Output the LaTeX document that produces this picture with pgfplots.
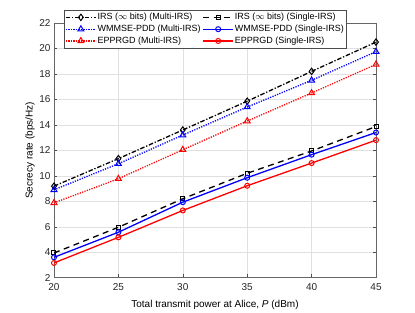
\documentclass[border=0pt]{standalone}
\usepackage{pgfplots}
\pgfplotsset{compat=1.18}
\usepackage{fontspec}
\setmainfont{Liberation Sans}
\begin{document}
\begin{tikzpicture}[x=1pt,y=1pt]
\begin{axis}[
  name=ax,
  at={(0,0)}, anchor=south west,
  scale only axis,
  width=322pt, height=254.7pt,
  xmin=20, xmax=45, ymin=2, ymax=22,
  xtick={20,25,30,35,40,45},
  ytick={2,4,6,8,10,12,14,16,18,20,22},
  tick align=inside,
  tick style={color=black!70, line width=0.5pt},
  major tick length=3.2pt,
  axis line style={color=black!60, line width=0.6pt},
  grid=major,
  grid style={color=black!12, line width=0.5pt},
  /pgf/number format/assume math mode=true,
  ticklabel style={font=\fontsize{10}{12}\selectfont, color=black!85},
  xticklabel style={yshift=-2.5pt},
  xlabel={Total transmit power at Alice,\ \textit{P} (dBm)},
  ylabel={Secrecy rate (bps/Hz)},
  label style={font=\fontsize{11}{13}\selectfont, color=black!85},
  every axis x label/.style={at={(rel axis cs:0.5,0)}, anchor=base, yshift=-29.5pt},
  every axis y label/.style={at={(rel axis cs:0,0.5)}, rotate=90, anchor=center, yshift=24pt},
  legend columns=2,
  legend style={at={(0.031,1.051)}, anchor=north west,
    font=\fontsize{9}{11}\selectfont,
    draw=black!70, line width=0.5pt, inner xsep=1pt, inner ysep=1.5pt,
    nodes={inner sep=1pt, text height=7pt, text depth=2.2pt},
    row sep=0.6pt,
    /tikz/every even column/.append style={column sep=1pt}},
  legend cell align=left,
  legend image code/.code={
    \draw[mark repeat=2,mark phase=2]
      plot coordinates {(0pt,0pt) (15pt,0pt) (30pt,0pt)};
  },
  every axis plot/.append style={line width=1.3pt},
]
% Multi black
\addplot[color=black, dash pattern=on 4.5pt off 1.8pt on 1.3pt off 1.8pt, mark=diamond, mark size=3.2pt, mark options={solid, line width=1pt}]
  coordinates {(20,9.19) (25,11.35) (30,13.6) (35,15.86) (40,18.2) (45,20.5)};
\addlegendentry{IRS ($\infty$ bits) (Multi-IRS)}
% Single black
\addplot[color=black, dash pattern=on 6pt off 4.5pt, mark=square, mark size=2pt, mark options={solid, line width=1pt}]
  coordinates {(20,3.94) (25,5.96) (30,8.2) (35,10.2) (40,11.95) (45,13.87)};
\addlegendentry{IRS ($\infty$ bits) (Single-IRS)}
% Multi blue
\addplot[color=blue, dash pattern=on 1.2pt off 1.3pt, mark=triangle, mark size=3.4pt, mark options={solid, line width=1pt}]
  coordinates {(20,8.9) (25,10.95) (30,13.2) (35,15.4) (40,17.5) (45,19.75)};
\addlegendentry{WMMSE-PDD (Multi-IRS)}
% Single blue
\addplot[color=blue, solid, mark=o, mark size=2.5pt, mark options={solid, line width=1pt}]
  coordinates {(20,3.6) (25,5.57) (30,7.93) (35,9.85) (40,11.66) (45,13.4)};
\addlegendentry{WMMSE-PDD (Single-IRS)}
% Multi red
\addplot[color=red, dash pattern=on 1.2pt off 1.3pt, mark=triangle, mark size=3.4pt, mark options={solid, line width=1pt}]
  coordinates {(20,7.88) (25,9.77) (30,12.05) (35,14.3) (40,16.5) (45,18.75)};
\addlegendentry{EPPRGD (Multi-IRS)}
% Single red
\addplot[color=red, solid, mark=o, mark size=2.5pt, mark options={solid, line width=1pt}]
  coordinates {(20,3.16) (25,5.17) (30,7.28) (35,9.22) (40,11.0) (45,12.8)};
\addlegendentry{EPPRGD (Single-IRS)}
\end{axis}
\path[use as bounding box] (-54,-34.3) rectangle (361,277.7);
\end{tikzpicture}
\end{document}
